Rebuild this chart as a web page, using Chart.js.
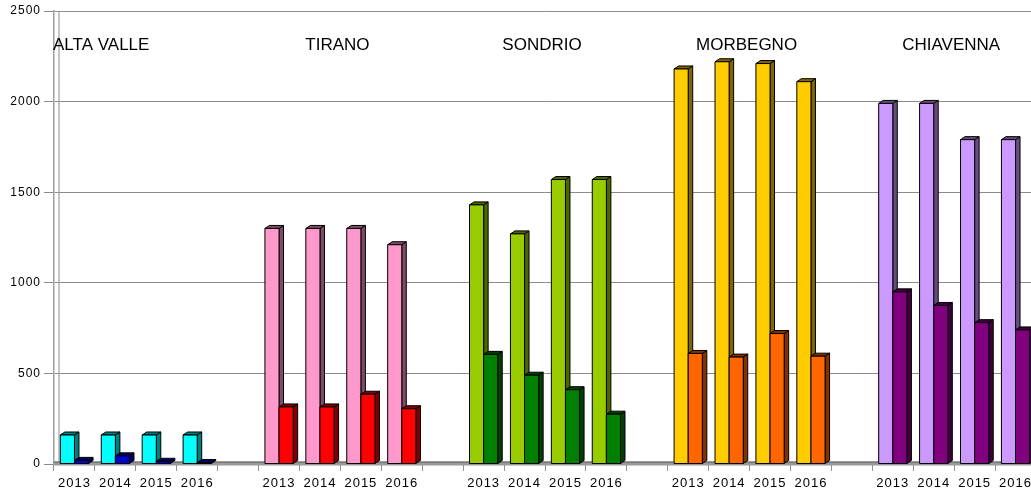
<!DOCTYPE html>
<html>
<head>
<meta charset="utf-8">
<script src="https://cdn.jsdelivr.net/npm/chart.js@4/dist/chart.umd.min.js"></script>
<style>
html,body{margin:0;padding:0;background:#fff;overflow:hidden;width:1031px;height:490px;}
canvas{display:block;}
</style>
</head>
<body>
<canvas id="c" width="1036" height="490"></canvas>
<script>
// ---- data ----
const groups = ['ALTA VALLE', 'TIRANO', 'SONDRIO', 'MORBEGNO', 'CHIAVENNA'];
const years = ['2013', '2014', '2015', '2016'];
const altaValleLight = [160, 160, 160, 160];
const altaValleDark  = [20, 45, 15, 8];
const tiranoLight    = [1300, 1300, 1300, 1210];
const tiranoDark     = [315, 315, 385, 305];
const sondrioLight   = [1430, 1270, 1570, 1570];
const sondrioDark    = [605, 490, 410, 275];
const morbegnoLight  = [2180, 2220, 2210, 2110];
const morbegnoDark   = [610, 590, 720, 595];
const chiavennaLight = [1990, 1990, 1790, 1790];
const chiavennaDark  = [950, 875, 780, 740];
const yTicks = [0, 500, 1000, 1500, 2000, 2500];

const lightSeries = [altaValleLight, tiranoLight, sondrioLight, morbegnoLight, chiavennaLight];
const darkSeries  = [altaValleDark, tiranoDark, sondrioDark, morbegnoDark, chiavennaDark];

// colours [front, side]
const lightColors = [['#00FFFF','#007F7F'],['#FF99CC','#7F4C66'],['#99CC00','#4C6600'],['#FFCC00','#7F6600'],['#CC99FF','#664C7F']];
const darkColors  = [['#0000CC','#000066'],['#FF0000','#7F0000'],['#008000','#004000'],['#FF6600','#7F3300'],['#800080','#400040']];

// build category table (blank category between groups)
const labels = [], lightData = [], darkData = [], lightBg = [], darkBg = [], lightSide = [], darkSide = [], groupIdx = [];
groups.forEach((g, gi) => {
  years.forEach((y, yi) => {
    labels.push(y);
    lightData.push(lightSeries[gi][yi]);
    darkData.push(darkSeries[gi][yi]);
    lightBg.push(lightColors[gi][0]); lightSide.push(lightColors[gi][1]);
    darkBg.push(darkColors[gi][0]); darkSide.push(darkColors[gi][1]);
    groupIdx.push(gi);
  });
  if (gi < groups.length - 1) {
    labels.push(''); lightData.push(null); darkData.push(null);
    lightBg.push('#fff'); lightSide.push('#fff'); darkBg.push('#fff'); darkSide.push('#fff');
    groupIdx.push(-1);
  }
});

const DX = 4.5, DY = -3;

const threeD = {
  id: 'threeD',
  beforeDraw(chart) {
    chart.ctx.letterSpacing = '1px';
  },
  beforeDatasetsDraw(chart) {
    const ctx = chart.ctx, a = chart.chartArea;
    const y0 = chart.scales.y.getPixelForValue(0);
    ctx.save();
    ctx.letterSpacing = '0px';
    // back wall line
    ctx.strokeStyle = '#a0a0a0';
    ctx.lineWidth = 1.2;
    ctx.beginPath();
    ctx.moveTo(a.left + 5, a.top);
    ctx.lineTo(a.left + 5, y0 - 2);
    ctx.stroke();
    // floor band
    ctx.fillStyle = '#9a9a9a';
    ctx.fillRect(a.left, y0 - 2.5, a.right - a.left, 4);
    ctx.fillStyle = '#6e6e6e';
    ctx.fillRect(a.left, y0 - 2.5, a.right - a.left, 1.2);
    ctx.restore();
  },
  afterDatasetsDraw(chart) {
    const ctx = chart.ctx;
    const metas = [chart.getDatasetMeta(0), chart.getDatasetMeta(1)];
    ctx.save();
    ctx.lineWidth = 1;
    ctx.strokeStyle = '#000';
    ctx.lineJoin = 'round';
    for (let i = 0; i < labels.length; i++) {
      if (groupIdx[i] < 0) continue;
      metas.forEach((m, di) => {
        const el = m.data[i];
        const ds = chart.data.datasets[di];
        const w = el.width, l = el.x - w / 2, r = el.x + w / 2, t = el.y, b = el.base;
        // side
        ctx.fillStyle = ds.sideColor[i];
        ctx.beginPath();
        ctx.moveTo(r, t); ctx.lineTo(r + DX, t + DY); ctx.lineTo(r + DX, b + DY); ctx.lineTo(r, b); ctx.closePath();
        ctx.fill(); ctx.stroke();
        // top
        ctx.beginPath();
        ctx.moveTo(l, t); ctx.lineTo(l + DX, t + DY); ctx.lineTo(r + DX, t + DY); ctx.lineTo(r, t); ctx.closePath();
        ctx.fill(); ctx.stroke();
        // front
        ctx.fillStyle = ds.backgroundColor[i];
        ctx.fillRect(l, t, w, b - t);
        ctx.strokeRect(l, t, w, b - t);
      });
    }
    ctx.restore();
  },
  afterDraw(chart) {
    const ctx = chart.ctx, a = chart.chartArea, xs = chart.scales.x;
    ctx.save();
    ctx.letterSpacing = '0px';
    ctx.font = '17px "Liberation Sans", Arial, sans-serif';
    ctx.fillStyle = '#000';
    ctx.textBaseline = 'middle';
    groups.forEach((g, gi) => {
      if (gi === 0) {
        ctx.textAlign = 'left';
        ctx.fillText(g, a.left - 1, 45);
        return;
      }
      const first = gi * 5, last = first + 3;
      const cx = (xs.getPixelForValue(first) + xs.getPixelForValue(last)) / 2;
      ctx.textAlign = 'center';
      ctx.fillText(g, cx - 3, 45);
    });
    ctx.restore();
  }
};

new Chart(document.getElementById('c'), {
  type: 'bar',
  data: {
    labels: labels,
    datasets: [
      { data: lightData, backgroundColor: lightBg, sideColor: lightSide, borderWidth: 0 },
      { data: darkData, backgroundColor: darkBg, sideColor: darkSide, borderWidth: 0 }
    ]
  },
  options: {
    responsive: false,
    animation: false,
    events: [],
    layout: { padding: { top: 11, right: 0, left: 0, bottom: 0 } },
    plugins: { legend: { display: false }, tooltip: { enabled: false } },
    datasets: { bar: { categoryPercentage: 0.69, barPercentage: 1.0 } },
    scales: {
      x: {
        offset: true,
        grid: { display: true, offset: true, drawOnChartArea: false, color: '#909090', tickLength: 7, lineWidth: 1 },
        border: { display: false },
        ticks: { color: '#000', font: { family: '"Liberation Sans", Arial, sans-serif', size: 13 }, padding: 5, maxRotation: 0, autoSkip: false },
        afterFit: s => { s.height = 26; }
      },
      y: {
        min: 0, max: 2500,
        afterBuildTicks: s => { s.ticks = yTicks.map(v => ({ value: v })); },
        grid: { color: '#8c8c8c', lineWidth: 1, tickLength: 10 },
        border: { display: true, color: '#a0a0a0', width: 1.5 },
        ticks: { color: '#000', font: { family: '"Liberation Sans", Arial, sans-serif', size: 12 }, padding: 3, callback: v => String(v) },
        afterFit: s => { s.width = 54; }
      }
    }
  },
  plugins: [threeD]
});
</script>
</body>
</html>
